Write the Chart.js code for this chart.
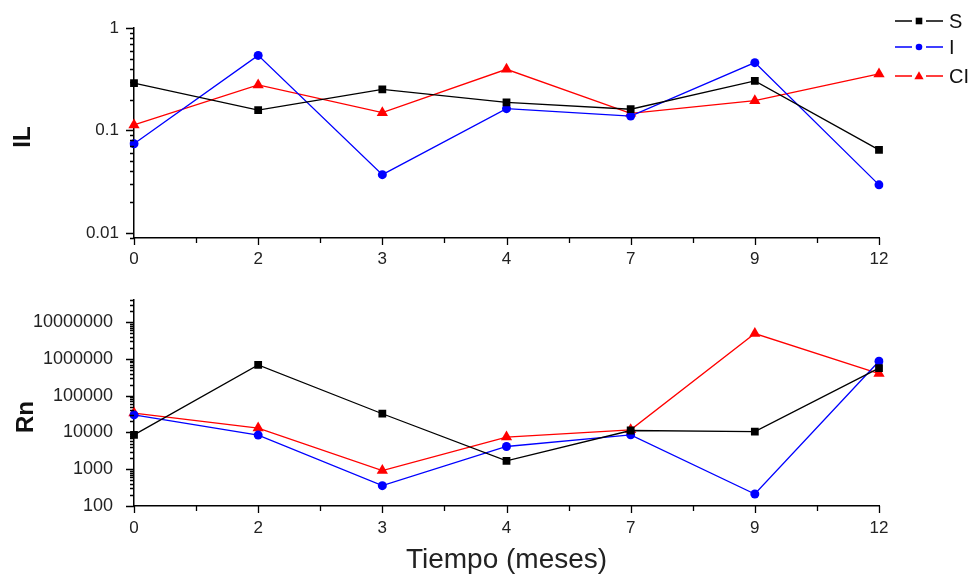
<!DOCTYPE html>
<html>
<head>
<meta charset="utf-8">
<script src="https://cdn.jsdelivr.net/npm/chart.js@4.4.0/dist/chart.umd.min.js"></script>
<style>
    body { margin: 0; background: #fff; }
    #lienzo { position: relative; width: 974px; height: 577px; font-family: Arial, "Liberation Sans", sans-serif; }
    .caja { position: absolute; left: 0; width: 974px; }
    .titulo-y {
        position: absolute;
        font-weight: bold;
        font-size: 24px;
        color: #111;
        white-space: nowrap;
        transform: translate(-50%, -50%) rotate(-90deg);
    }
</style>
</head>
<body>
<div id="lienzo">
    <div class="caja" style="top:0;height:280px"><canvas id="graficaIL"></canvas></div>
    <div class="caja" style="top:280px;height:297px"><canvas id="graficaRn"></canvas></div>
    <div class="titulo-y" style="left:22px;top:137px">IL</div>
    <div class="titulo-y" style="left:25px;top:417px">Rn</div>
</div>
<script>
        // datos
        const meses = ['0', '2', '3', '4', '7', '9', '12'];

        const ilS  = [0.29, 0.158, 0.252, 0.188, 0.161, 0.304, 0.0645];
        const ilI  = [0.074, 0.54, 0.037, 0.163, 0.138, 0.459, 0.0294];
        const ilCI = [0.113, 0.278, 0.149, 0.395, 0.147, 0.195, 0.356];

        const rnS  = [8600, 687000, 32300, 1690, 11300, 10500, 560000];
        const rnI  = [30000, 8480, 358, 4150, 8630, 212, 861000];
        const rnCI = [33700, 13200, 918, 7470, 11800, 4900000, 398000];

        const etiquetasIL = [0.01, 0.1, 1];
        const etiquetasRn = [100, 1000, 10000, 100000, 1000000, 10000000];

        const series = [
            { nombre: 'S',  color: '#000000', punto: 'rect',     radio: 5.5 },
            { nombre: 'I',  color: '#0000ff', punto: 'circle',   radio: 4.5 },
            { nombre: 'CI', color: '#ff0000', punto: 'triangle', radio: 6.5 }
        ];

        Chart.defaults.font.family = 'Arial, "Liberation Sans", sans-serif';
        Chart.defaults.color = '#222';

        function crearDatasets(valores){
            return series.map((s, i) => ({
                label: s.nombre,
                data: valores[i],
                borderColor: s.color,
                backgroundColor: s.color,
                borderWidth: 1.3,
                pointStyle: s.punto,
                pointRadius: s.radio,
                pointBorderWidth: 0,
                pointBackgroundColor: s.color,
                tension: 0
            }));
        }

        // marcas menores y mayores del eje logaritmico
        function ticksLog(scale){
            const lista = [];
            const e0 = Math.floor(Math.log10(scale.min));
            const e1 = Math.ceil(Math.log10(scale.max));
            for (let e = e0; e <= e1; e++) {
                for (let m = 1; m < 10; m++) {
                    const v = parseFloat((m * Math.pow(10, e)).toPrecision(6));
                    if (v >= scale.min * 0.9999 && v <= scale.max * 1.0001) {
                        lista.push({ value: v });
                    }
                }
            }
            scale.ticks = lista;
        }

        const marcasEjes = {
            id: 'marcasEjes',
            afterDraw(chart){
                const { ctx, chartArea: a, scales: { x, y } } = chart;
                ctx.save();
                ctx.strokeStyle = '#000';
                ctx.lineWidth = 1.3;
                ctx.beginPath();
                y.ticks.forEach(t => {
                    const py = Math.round(y.getPixelForValue(t.value)) + 0.5;
                    const l = Math.log10(t.value);
                    const mayor = Math.abs(l - Math.round(l)) < 1e-6;
                    ctx.moveTo(a.left - (mayor ? 8 : 4), py);
                    ctx.lineTo(a.left, py);
                });
                for (let i = 0; i < meses.length; i++) {
                    const px = Math.round(x.getPixelForValue(i)) + 0.5;
                    ctx.moveTo(px, a.bottom);
                    ctx.lineTo(px, a.bottom + 7);
                    if (i < meses.length - 1) {
                        const pm = Math.round(x.getPixelForValue(i + 0.5)) + 0.5;
                        ctx.moveTo(pm, a.bottom);
                        ctx.lineTo(pm, a.bottom + 5);
                    }
                }
                ctx.stroke();
                ctx.restore();
            }
        };

        function dibujarPunto(ctx, estilo, x, y, r){
            ctx.beginPath();
            if (estilo === 'rect') {
                ctx.rect(x - r, y - r, 2 * r, 2 * r);
            } else if (estilo === 'circle') {
                ctx.arc(x, y, r, 0, Math.PI * 2);
            } else {
                ctx.moveTo(x, y - r * 1.15);
                ctx.lineTo(x + r * 1.1, y + r * 0.75);
                ctx.lineTo(x - r * 1.1, y + r * 0.75);
                ctx.closePath();
            }
            ctx.fill();
        }

        const leyenda = {
            id: 'leyenda',
            afterDraw(chart){
                const ctx = chart.ctx;
                const filas = [21, 47, 76];
                ctx.save();
                chart.data.datasets.forEach((ds, i) => {
                    const yy = filas[i];
                    ctx.strokeStyle = ds.borderColor;
                    ctx.fillStyle = ds.borderColor;
                    ctx.lineWidth = 1.3;
                    ctx.beginPath();
                    ctx.moveTo(895, yy); ctx.lineTo(912, yy);
                    ctx.moveTo(926, yy); ctx.lineTo(943, yy);
                    ctx.stroke();
                    dibujarPunto(ctx, series[i].punto, 919, yy, series[i].punto === 'triangle' ? 4.2 : 3.3);
                    ctx.fillStyle = '#111';
                    ctx.font = '20px Arial, "Liberation Sans", sans-serif';
                    ctx.textBaseline = 'middle';
                    ctx.fillText(ds.label, 949, yy + 1);
                });
                ctx.restore();
            }
        };

        function ejeX(alto, padding, titulo){
            return {
                type: 'category',
                offset: false,
                grid: { display: false, drawTicks: false },
                border: { color: '#000', width: 1.5 },
                ticks: { padding: padding, font: { size: 17 }, color: '#222', maxRotation: 0, autoSkip: false },
                title: titulo,
                afterFit: s => { s.height = alto; }
            };
        }

        function ejeY(min, max, padding, etiquetas, tam){
            return {
                type: 'logarithmic',
                min: min,
                max: max,
                grid: { display: false, drawTicks: false },
                border: { color: '#000', width: 1.5 },
                ticks: {
                    padding: padding,
                    autoSkip: false,
                    font: { size: tam },
                    color: '#222',
                    callback: v => etiquetas.includes(v) ? String(v) : ''
                },
                afterBuildTicks: ticksLog,
                afterFit: s => {
                    s.width = 134;
                    s.paddingTop = 0;
                    s.paddingBottom = 0;
                }
            };
        }

        new Chart(document.getElementById('graficaIL'), {
            type: 'line',
            data: { labels: meses, datasets: crearDatasets([ilS, ilI, ilCI]) },
            options: {
                animation: false,
                responsive: true,
                maintainAspectRatio: false,
                layout: { padding: { left: 0, right: 95, top: 28, bottom: 0 } },
                plugins: { legend: { display: false }, tooltip: { enabled: false } },
                scales: {
                    x: ejeX(42, 11, { display: false }),
                    y: ejeY(0.0089, 1, 15, etiquetasIL, 17)
                }
            },
            plugins: [marcasEjes, leyenda]
        });

        new Chart(document.getElementById('graficaRn'), {
            type: 'line',
            data: { labels: meses, datasets: crearDatasets([rnS, rnI, rnCI]) },
            options: {
                animation: false,
                responsive: true,
                maintainAspectRatio: false,
                layout: { padding: { left: 0, right: 95, top: 20, bottom: 0 } },
                plugins: { legend: { display: false }, tooltip: { enabled: false } },
                scales: {
                    x: ejeX(71, 12, {
                        display: true,
                        text: 'Tiempo (meses)',
                        color: '#222',
                        font: { size: 28 },
                        padding: { top: 0, bottom: 0 }
                    }),
                    y: ejeY(100, 40000000, 21, etiquetasRn, 18)
                }
            },
            plugins: [marcasEjes]
        });
</script>
</body>
</html>
